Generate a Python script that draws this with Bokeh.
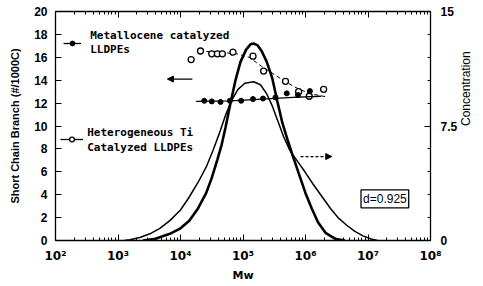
import numpy as np
from bokeh.plotting import figure
from bokeh.models import (LogAxis, LinearAxis, Range1d, FixedTicker, Label, Arrow,
                          NormalHead, Legend, LegendItem)
from bokeh.embed import file_html
from bokeh.resources import INLINE

# ---------------- data (log10 Mw) ----------------
# Concentration curve 1 (narrow, tall)
conc_a_logmw = [3.40, 3.60, 3.83, 4.00, 4.14, 4.28, 4.41, 4.50, 4.59, 4.66, 4.72, 4.80, 4.88,
                4.96, 5.05, 5.12, 5.17, 5.23, 5.30, 5.38, 5.47, 5.55, 5.63, 5.72, 5.80, 5.90,
                6.00, 6.10, 6.20, 6.32, 6.47, 6.63]
conc_a = [0.0, 0.12, 0.44, 0.8, 1.3, 2.1, 3.1, 4.1, 5.3, 6.3, 7.4, 9.0, 10.5,
          11.7, 12.5, 12.85, 12.9, 12.8, 12.4, 11.7, 10.6, 9.1, 7.7, 6.5, 5.5, 4.3,
          3.1, 2.1, 1.2, 0.5, 0.12, 0.0]
# Concentration curve 2 (broad, lower)
conc_b_logmw = [3.10, 3.19, 3.35, 3.51, 3.67, 3.83, 4.00, 4.14, 4.28, 4.41, 4.52, 4.62, 4.72,
                4.82, 4.92, 5.03, 5.17, 5.28, 5.38, 5.47, 5.56, 5.65, 5.75, 5.87, 5.99, 6.12,
                6.26, 6.40, 6.52, 6.66, 6.79, 6.92, 7.05, 7.15]
conc_b = [0.0, 0.05, 0.2, 0.44, 0.8, 1.3, 2.0, 2.85, 3.8, 4.8, 5.9, 7.0, 8.2,
          9.2, 9.9, 10.3, 10.4, 10.2, 9.6, 8.8, 7.8, 6.8, 5.9, 5.2, 4.5, 3.7,
          2.9, 2.1, 1.5, 1.0, 0.6, 0.3, 0.1, 0.0]

# Metallocene catalyzed LLDPEs (open circles) and dashed trend
metallocene_logmw = [4.17, 4.32, 4.50, 4.59, 4.67, 4.84, 5.16, 5.33, 5.68, 5.89, 6.06, 6.29]
metallocene_scb = [15.8, 16.55, 16.3, 16.3, 16.3, 16.45, 16.1, 14.8, 13.9, 13.0, 12.6, 13.2]
metallocene_fit_logmw = [4.30, 4.60, 4.90, 5.10, 5.30, 5.50, 5.70, 5.90, 6.10, 6.33]
metallocene_fit_scb = [16.55, 16.45, 16.3, 16.0, 15.2, 14.5, 13.8, 13.2, 12.8, 12.55]

# Heterogeneous Ti catalyzed LLDPEs (filled dots) and solid trend
hetero_logmw = [4.38, 4.50, 4.64, 4.79, 4.97, 5.16, 5.32, 5.52, 5.70, 5.88, 6.07]
hetero_scb = [12.2, 12.15, 12.1, 12.2, 12.2, 12.35, 12.4, 12.5, 12.85, 12.7, 13.05]
hetero_fit_logmw = [4.25, 4.80, 5.30, 5.80, 6.25]
hetero_fit_scb = [12.15, 12.2, 12.35, 12.5, 12.6]

x_decades = [2, 3, 4, 5, 6, 7, 8]
x_tick_labels = ["10²", "10³", "10⁴", "10⁵", "10⁶", "10⁷", "10⁸"]
left_ticks = [0, 2, 4, 6, 8, 10, 12, 14, 16, 18, 20]
right_ticks = [0, 7.5, 15]
right_tick_labels = ["0", "7.5", "15"]
right_minor = [1.5, 3, 4.5, 6, 9, 10.5, 12, 13.5]

legend_metallocene = ["Metallocene catalyzed", "LLDPEs"]
legend_hetero = ["Heterogeneous Ti", "Catalyzed LLDPEs"]

def mw(a):
    return [10 ** v for v in a]

# ---------------- figure ----------------
p = figure(width=483, height=286, x_axis_type="log", x_range=(1e2, 1e8), y_range=(0, 20),
           output_backend="svg", toolbar_location=None,
           min_border_left=55, min_border_right=50, min_border_top=11, min_border_bottom=46)
p.extra_y_ranges = {"conc": Range1d(0, 15)}
p.xgrid.visible = False
p.ygrid.visible = False
p.outline_line_color = "black"
p.background_fill_color = "white"
p.border_fill_color = "white"

major = [10.0 ** d for d in x_decades]
minor = [k * 10.0 ** d for d in x_decades[:-1] for k in range(2, 10)]
xticker = FixedTicker(ticks=major, minor_ticks=minor)

def style_axis(ax):
    ax.axis_line_color = "black"
    ax.axis_line_width = 1.3
    ax.major_tick_in = 6
    ax.major_tick_out = 0
    ax.minor_tick_in = 3
    ax.minor_tick_out = 0
    ax.major_tick_line_color = "black"
    ax.minor_tick_line_color = "black"
    ax.major_label_text_color = "black"
    ax.axis_label_text_color = "black"
    ax.axis_label_text_font_style = "bold"

xa = p.xaxis[0]
style_axis(xa)
xa.ticker = xticker
xa.major_label_overrides = {t: s for t, s in zip(major, x_tick_labels)}
xa.major_label_text_font = "DejaVu Sans"
xa.major_label_text_font_size = "12px"
xa.major_label_text_font_style = "bold"
xa.major_label_standoff = 8
xa.axis_label = "Mw"
xa.axis_label_text_font = "DejaVu Sans"
xa.axis_label_text_font_size = "11px"
xa.axis_label_standoff = 3

ya = p.yaxis[0]
style_axis(ya)
ya.ticker = FixedTicker(ticks=left_ticks, minor_ticks=[])
ya.major_label_text_font = "Liberation Sans"
ya.major_label_text_font_size = "12px"
ya.major_label_text_font_style = "bold"
ya.major_label_standoff = 8
ya.axis_label = "Short Chain Branch (#/1000C)"
ya.axis_label_text_font = "Liberation Sans"
ya.axis_label_text_font_size = "11px"
ya.axis_label_standoff = 10

ra = LinearAxis(y_range_name="conc")
style_axis(ra)
ra.ticker = FixedTicker(ticks=right_ticks, minor_ticks=right_minor)
ra.major_label_overrides = {t: s for t, s in zip(right_ticks, right_tick_labels)}
ra.major_label_text_font = "Liberation Sans"
ra.major_label_text_font_size = "12px"
ra.major_label_text_font_style = "bold"
ra.major_label_standoff = 10
ra.axis_label = "Concentration"
ra.axis_label_text_font = "Liberation Sans"
ra.axis_label_text_font_size = "12px"
ra.axis_label_text_font_style = "normal"
ra.axis_label_standoff = 6
if "axis_label_orientation" in ra.properties():
    ra.axis_label_orientation = np.pi / 2   # read bottom-to-top
p.add_layout(ra, "right")

ta = LogAxis()
style_axis(ta)
ta.ticker = xticker
ta.major_label_text_font_size = "4px"
ta.major_label_text_alpha = 0
ta.major_label_standoff = 0
p.add_layout(ta, "above")

# ---------------- concentration curves ----------------
p.line(mw(conc_b_logmw), conc_b, y_range_name="conc", line_color="black", line_width=1.5)
p.line(mw(conc_a_logmw), conc_a, y_range_name="conc", line_color="black", line_width=2.6)

# ---------------- SCB data ----------------
m_line = p.line(mw(metallocene_fit_logmw), metallocene_fit_scb, line_color="black",
                line_width=1.0, line_dash="4 3")
m_pts = p.scatter(mw(metallocene_logmw), metallocene_scb, marker="circle", size=6,
                  fill_color="white", line_color="black", line_width=1.3)
h_line = p.line(mw(hetero_fit_logmw), hetero_fit_scb, line_color="black", line_width=1.3)
h_pts = p.scatter(mw(hetero_logmw), hetero_scb, marker="circle", size=5,
                  fill_color="black", line_color="black")

# ---------------- legends (glyph swatches; text drawn by labels) ----------------
def make_legend(label, renderers, loc, gw):
    lg = Legend(items=[LegendItem(label=label, renderers=renderers)], location=loc,
                border_line_color=None, background_fill_alpha=0, padding=0, margin=0,
                spacing=0, glyph_width=gw, glyph_height=12, label_standoff=4,
                label_text_font_size="11px", label_text_alpha=0)
    p.add_layout(lg, "center")

make_legend(legend_metallocene[0], [h_line, h_pts], (8, 191), 18)
make_legend(legend_hetero[0], [h_line, m_pts], (5, 95), 23)

def text(x, y, s):
    p.add_layout(Label(x=x, y=y, text=s, text_align="left", text_baseline="middle",
                       text_font="DejaVu Sans Mono", text_font_size="11px",
                       text_font_style="bold", text_color="black"))

text(10 ** 2.556, 17.9, legend_metallocene[0])
text(10 ** 2.556, 16.67, legend_metallocene[1])
text(10 ** 2.508, 9.47, legend_hetero[0])
text(10 ** 2.508, 8.16, legend_hetero[1])

# ---------------- arrows & box ----------------
p.add_layout(Arrow(x_start=10 ** 4.19, y_start=14.1, x_end=10 ** 3.79, y_end=14.1,
                   line_width=1.3, end=NormalHead(size=6, fill_color="black")))
p.add_layout(Arrow(x_start=10 ** 5.92, y_start=5.5, x_end=10 ** 6.42, y_end=5.5,
                   y_range_name="conc", line_width=1.2, line_dash="3 2",
                   end=NormalHead(size=6, fill_color="black")))
p.add_layout(Label(x=10 ** 7.27, y=3.64, text="d=0.925", text_align="center",
                   text_baseline="middle", text_font="Liberation Sans",
                   text_font_size="12px", text_color="black",
                   border_line_color="black", border_line_width=1.3,
                   background_fill_color="white", padding=2))

open("out.html", "w").write(file_html(p, INLINE))
